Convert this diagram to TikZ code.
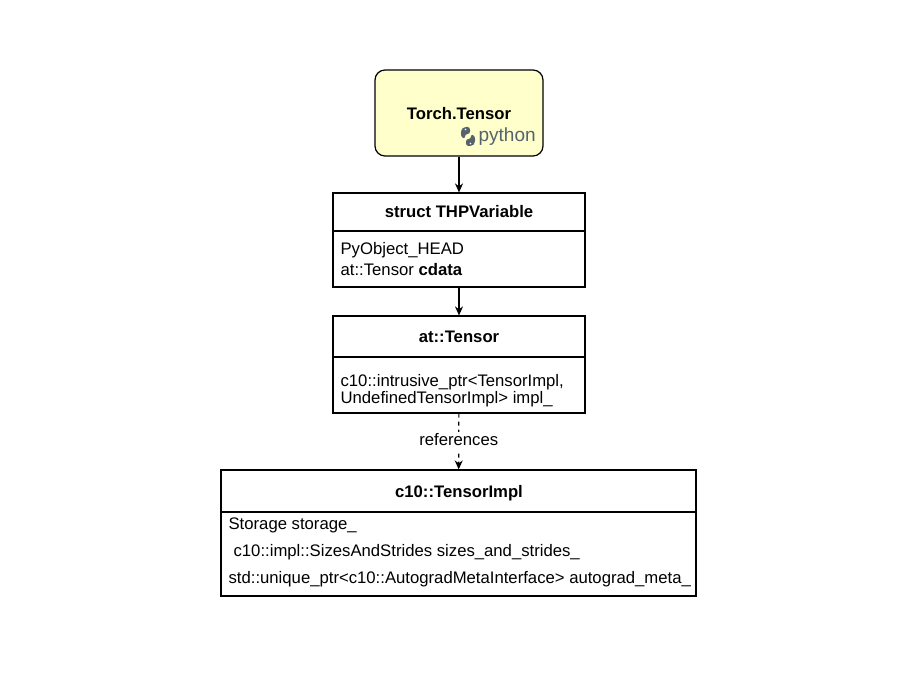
\documentclass[tikz,border=0pt]{standalone}
\usepackage{fontspec}
\setmainfont{Liberation Sans}
\usetikzlibrary{arrows.meta}
\definecolor{pyyellow}{HTML}{FFFFCC}
\definecolor{pygray}{HTML}{56626D}
\begin{document}
\begin{tikzpicture}[x=1pt,y=-1pt,line width=1.2pt,
    font=\fontsize{16.7}{20}\selectfont,
    arrow/.style={-{Stealth[length=9pt,width=8pt]}}]
  \useasboundingbox (0,0) rectangle (920,700);

        \begin{scope}[every node/.style={draw, rectangle, inner sep=0pt}]
          \node[rounded corners=10pt, fill=pyyellow, minimum width=168pt, minimum height=86pt] (torch) at (459,113) {};
          \node[minimum width=252pt, minimum height=94pt] (thp)  at (459,240)   {};
          \node[minimum width=252pt, minimum height=97pt] (aten) at (459,364.5) {};
          \node[minimum width=475pt, minimum height=126pt] (impl) at (458.5,533) {};
        \end{scope}

        % header dividers
        \draw (thp.west |- 0,231)  -- (thp.east |- 0,231);
        \draw (aten.west |- 0,357) -- (aten.east |- 0,357);
        \draw (impl.west |- 0,512) -- (impl.east |- 0,512);

        \begin{scope}[every node/.style={inner sep=0pt, text height=12pt, text depth=3.5pt}]
          \node[font=\fontsize{16.7}{20}\selectfont\bfseries] (torchtitle) at (459,115) {Torch.Tensor};
          \node[font=\fontsize{16.7}{20}\selectfont\bfseries] (thptitle)   at (459,213) {struct THPVariable};
          \node[font=\fontsize{16.7}{20}\selectfont\bfseries] (atentitle)  at (459,338) {at::Tensor};
          \node[font=\fontsize{16.7}{20}\selectfont\bfseries] (impltitle)  at (459,493) {c10::TensorImpl};

          \node[anchor=west] (pyhead) at (340,250) {PyObject\_HEAD};
          \node[anchor=west] (cdata)  at (340,271) {at::Tensor \textbf{cdata}};
          \node[anchor=west] (ptr)    at (340,382) {c10::intrusive\_ptr<TensorImpl,};
          \node[anchor=west] (undef)  at (340,399) {UndefinedTensorImpl> impl\_};
          \node[anchor=west] (stor)   at (228,525) {Storage storage\_};
          \node[anchor=west] (sizes)  at (233,552) {c10::impl::SizesAndStrides sizes\_and\_strides\_};
          \node[anchor=west] (meta)   at (228,579) {std::unique\_ptr<c10::AutogradMetaInterface> autograd\_meta\_};

          \node[anchor=west, text=pygray, font=\fontsize{19}{20}\selectfont] (python) at (478,137) {python};
        \end{scope}

        % python logo
        \begin{scope}[pygray, line width=0pt]
          \fill[rounded corners=2.5pt] (461,137) -- (461,130) -- (464,127) -- (470,127) -- (470,134) -- (465,134) -- (465,139) -- cycle;
          \fill[rounded corners=2.5pt] (475,136) -- (475,143) -- (472,146) -- (466,146) -- (466,139) -- (471,139) -- (471,134) -- cycle;
          \fill[white] (465.5,129.5) circle (0.9pt);
          \fill[white] (470.5,143.5) circle (0.9pt);
        \end{scope}

        \begin{scope}[every node/.style={fill=white, inner sep=2pt, text height=12pt, text depth=3.5pt}]
            \path (torch) edge[arrow] (thp);
            \path (thp)   edge[arrow] (aten);
            \path (aten)  edge[arrow, dash pattern=on 4pt off 4pt] node (refs) {references} (impl);
        \end{scope}

      \end{tikzpicture}
\end{document}
